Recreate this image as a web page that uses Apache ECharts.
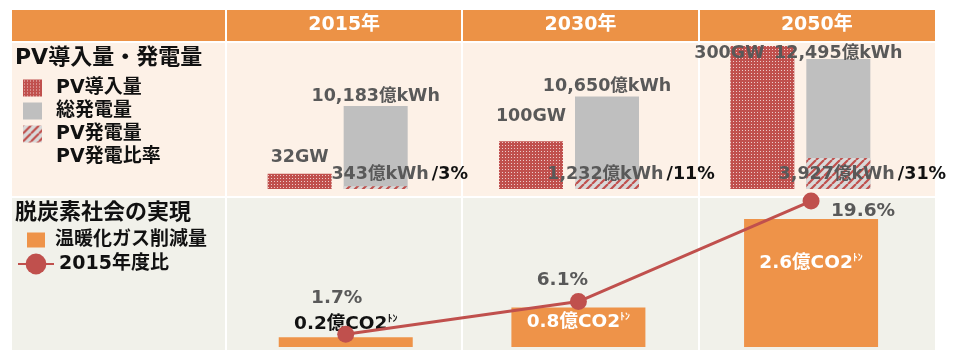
<!DOCTYPE html>
<html>
<head>
<meta charset="utf-8">
<script src="https://cdn.jsdelivr.net/npm/echarts@6/dist/echarts.min.js"></script>
<style>html,body{margin:0;padding:0;background:#fff}#c{width:960px;height:360px}</style>
</head>
<body>
<div id="c"></div>
<script>
// ---- data ----
const years = ['2015年', '2030年', '2050年'];
const pvCapacityGW = [32, 100, 300];          // PV導入量 (GW)
const totalGeneration = [10183, 10650, 12495]; // 総発電量 (億kWh)
const pvGeneration = [343, 1232, 3927];       // PV発電量 (億kWh)
const pvShare = [3, 11, 31];                  // PV発電比率 (%)
const ghgReduction = [0.2, 0.8, 2.6];         // 温暖化ガス削減量 (億CO2トン)
const reductionVs2015 = [1.7, 6.1, 19.6];     // 2015年度比 (%)

// ---- styles ----
const FONT = '"DejaVu Sans", "Noto Sans CJK JP", sans-serif';
const RED = '#C0504D', GRAY_TXT = '#595959', ORANGE = '#EE9349', HEAD = '#EC9246', BLACK = '#111111';

function makeDots() {
  const c = document.createElement('canvas'); c.width = 3; c.height = 3;
  const x = c.getContext('2d');
  x.fillStyle = RED; x.fillRect(0, 0, 3, 3);
  x.fillStyle = 'rgba(255,255,255,0.7)'; x.fillRect(1, 1, 1, 1);
  return c;
}
function makeHatch() {
  const c = document.createElement('canvas'); c.width = 8; c.height = 8;
  const x = c.getContext('2d');
  x.fillStyle = '#D9D9D9'; x.fillRect(0, 0, 8, 8);
  x.strokeStyle = RED; x.lineWidth = 2.2; x.beginPath();
  for (const k of [-8, 0, 8]) { x.moveTo(k, 8); x.lineTo(k + 8, 0); }
  x.stroke();
  return c;
}
const dotPattern = { image: makeDots(), repeat: 'repeat' };
const hatchPattern = { image: makeHatch(), repeat: 'repeat' };
const fmt = v => v.toLocaleString('en-US');

const lbl = (o) => Object.assign({ show: true, fontFamily: FONT, fontWeight: 'bold', fontSize: 17.5, lineHeight: 20 }, o);

// per-item label tweaks (layout only)
const capLabelTweak = [{}, { distance: 15 }, { position: 'insideTop', distance: 0, offset: [-33, -3] }];
const totLabelTweak = [{}, {}, { distance: -4 }];
const redLabelTweak = [
  { position: 'top', distance: 3, color: BLACK },
  { position: 'insideTop', distance: 5, color: '#fff' },
  { position: 'insideTop', distance: 34, color: '#fff' }
];
const lineLabelOffset = [[-9, -36], [-16, -21], [52, 10]];

const chart = echarts.init(document.getElementById('c'), null, { renderer: 'canvas' });

const option = {
  animation: false,
  textStyle: { fontFamily: FONT },
  graphic: {
    z: -10,
    elements: [
      { type: 'rect', z: -10, silent: true, shape: { x: 12, y: 10, width: 923, height: 31 }, style: { fill: HEAD } },
      { type: 'rect', z: -10, silent: true, shape: { x: 12, y: 43, width: 923, height: 153 }, style: { fill: '#FDF1E7' } },
      { type: 'rect', z: -10, silent: true, shape: { x: 12, y: 198, width: 923, height: 152 }, style: { fill: '#F1F1EA' } }
    ].concat([225, 461, 698].map(x => ({ type: 'rect', z: -9, silent: true, shape: { x: x, y: 10, width: 2, height: 340 }, style: { fill: '#fff' } })))
  },
  title: [
    { text: 'PV導入量・発電量', left: 15, top: 46.5, padding: 0, textStyle: { fontFamily: FONT, fontSize: 22, fontWeight: 'bold', color: BLACK, lineHeight: 24 } },
    { text: '脱炭素社会の実現', left: 15, top: 201.5, padding: 0, textStyle: { fontFamily: FONT, fontSize: 22, fontWeight: 'bold', color: BLACK, lineHeight: 24 } }
  ],
  legend: [
    {
      data: ['PV導入量', '総発電量', 'PV発電量', 'PV発電比率'], orient: 'vertical', left: 23, top: 76.5, padding: 0,
      itemGap: 0, itemWidth: 19, itemHeight: 17, icon: 'rect', selectedMode: false,
      textStyle: { fontFamily: FONT, fontSize: 19, fontWeight: 'bold', color: BLACK, lineHeight: 23, padding: [0, 0, 0, 9] }
    },
    {
      data: ['温暖化ガス削減量'], orient: 'vertical', left: 27, top: 228.5, padding: 0,
      itemWidth: 18, itemHeight: 15, icon: 'rect', selectedMode: false,
      textStyle: { fontFamily: FONT, fontSize: 19, fontWeight: 'bold', color: BLACK, lineHeight: 23, padding: [0, 0, 0, 5] }
    },
    {
      data: ['2015年度比'], orient: 'vertical', left: 17, top: 251, padding: 0,
      itemWidth: 36, itemHeight: 26, selectedMode: false,
      textStyle: { fontFamily: FONT, fontSize: 19, fontWeight: 'bold', color: BLACK, lineHeight: 26 }
    }
  ],
  grid: [
    { left: 226, width: 709, top: 10, height: 31, containLabel: false, outerBoundsMode: 'none' },
    { left: 222, width: 694, top: 43, height: 146, containLabel: false, outerBoundsMode: 'none' },
    { left: 229.4, width: 698, top: 197, height: 150, containLabel: false, outerBoundsMode: 'none' }
  ],
  xAxis: [
    {
      type: 'category', gridIndex: 0, data: years,
      axisLine: { show: false }, axisTick: { show: false }, splitLine: { show: false },
      axisLabel: { color: '#fff', fontFamily: FONT, fontSize: 19, fontWeight: 'bold', margin: -15.5, verticalAlign: 'middle', lineHeight: 20 }
    },
    { type: 'category', gridIndex: 1, data: years, show: false },
    { type: 'category', gridIndex: 1, data: years, show: false },
    { type: 'category', gridIndex: 2, data: years, show: false }
  ],
  yAxis: [
    { type: 'value', gridIndex: 0, show: false, min: 0, max: 1 },
    { type: 'value', gridIndex: 1, show: false, min: 0, max: 306.3 },
    { type: 'value', gridIndex: 1, show: false, min: 6100, max: 13282 },
    { type: 'value', gridIndex: 1, show: false, min: 0, max: 18495 },
    { type: 'value', gridIndex: 2, show: false, min: 0, max: 3.047 },
    { type: 'value', gridIndex: 2, show: false, min: 0, max: 20.14 }
  ],
  series: [
    {
      name: 'PV導入量', type: 'bar', xAxisIndex: 1, yAxisIndex: 1, barWidth: 64, barGap: '18.75%',
      itemStyle: { color: dotPattern },
      label: lbl({ position: 'top', distance: 6, color: GRAY_TXT, formatter: p => p.value + 'GW' }),
      data: pvCapacityGW.map((v, i) => ({ value: v, label: capLabelTweak[i] }))
    },
    {
      name: '総発電量', type: 'bar', xAxisIndex: 1, yAxisIndex: 2, barWidth: 64, barGap: '18.75%',
      itemStyle: { color: '#BFBFBF' },
      label: lbl({ position: 'top', distance: 0, color: GRAY_TXT, formatter: p => fmt(p.value) + '億kWh' }),
      data: totalGeneration.map((v, i) => ({ value: v, label: totLabelTweak[i] }))
    },
    {
      name: 'PV発電比率', type: 'bar', xAxisIndex: 2, yAxisIndex: 3, barWidth: 64, barGap: '18.75%',
      itemStyle: { color: 'rgba(0,0,0,0)' }, data: []
    },
    {
      name: 'PV発電量', type: 'bar', xAxisIndex: 2, yAxisIndex: 3, barWidth: 64, barGap: '18.75%',
      itemStyle: { color: hatchPattern },
      label: lbl({
        position: 'insideBottom', distance: 5, offset: [24, 0], color: GRAY_TXT,
        formatter: p => `{a|${fmt(pvGeneration[p.dataIndex])}億kWh}{b|/${pvShare[p.dataIndex]}%}`,
        rich: {
          a: { color: GRAY_TXT, fontFamily: FONT, fontWeight: 'bold', fontSize: 17.5, lineHeight: 20 },
          b: { color: BLACK, fontFamily: FONT, fontWeight: 'bold', fontSize: 17.5, lineHeight: 20, padding: [0, 0, 0, 3] }
        }
      }),
      data: pvGeneration
    },
    {
      name: '温暖化ガス削減量', type: 'bar', xAxisIndex: 3, yAxisIndex: 4, barWidth: 134,
      itemStyle: { color: ORANGE },
      label: lbl({
        fontSize: 18.5,
        formatter: p => p.dataIndex === 0 ? `{vb|${p.value}億CO2}{ub|ﾄﾝ}` : `{vw|${p.value}億CO2}{uw|ﾄﾝ}`,
        rich: {
          vb: { color: BLACK, fontFamily: FONT, fontWeight: 'bold', fontSize: 18.5, lineHeight: 20 },
          ub: { color: BLACK, fontFamily: FONT, fontWeight: 'bold', fontSize: 10, lineHeight: 12, verticalAlign: 'top' },
          vw: { color: '#fff', fontFamily: FONT, fontWeight: 'bold', fontSize: 18.5, lineHeight: 20 },
          uw: { color: '#fff', fontFamily: FONT, fontWeight: 'bold', fontSize: 10, lineHeight: 12, verticalAlign: 'top' }
        }
      }),
      data: ghgReduction.map((v, i) => ({ value: v, label: redLabelTweak[i] }))
    },
    {
      name: '2015年度比', type: 'line', xAxisIndex: 3, yAxisIndex: 5, z: 5,
      symbol: 'circle', symbolSize: 17,
      itemStyle: { color: RED }, lineStyle: { color: RED, width: 3 },
      label: lbl({ position: 'inside', fontSize: 18.5, color: GRAY_TXT, formatter: p => p.value + '%' }),
      data: reductionVs2015.map((v, i) => ({ value: v, label: { offset: lineLabelOffset[i] } }))
    }
  ]
};
chart.setOption(option);
</script>
</body>
</html>
